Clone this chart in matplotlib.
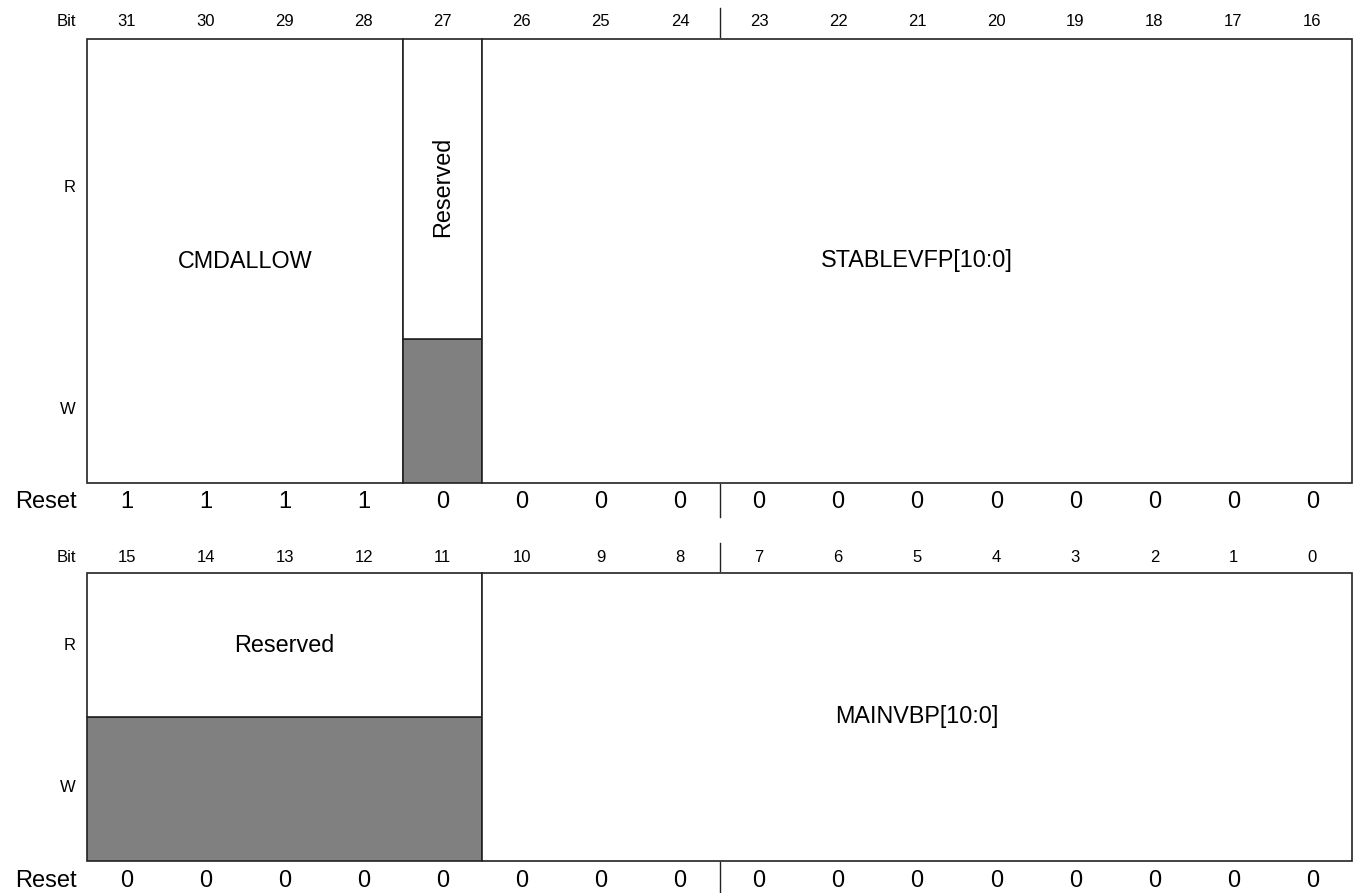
import matplotlib
matplotlib.use('Agg')
import matplotlib.pyplot as plt
from matplotlib.patches import Rectangle

plt.rcParams['font.family'] = ['Liberation Sans', 'DejaVu Sans']

# register data
top_bits = list(range(31, 15, -1))
top_reset = [1, 1, 1, 1, 0, 0, 0, 0, 0, 0, 0, 0, 0, 0, 0, 0]
top_fields = [
    ("CMDALLOW", 31, 28, "rw"),
    ("Reserved", 27, 27, "r"),
    ("STABLEVFP[10:0]", 26, 16, "rw"),
]

bottom_bits = list(range(15, -1, -1))
bottom_reset = [0] * 16
bottom_fields = [
    ("Reserved", 15, 11, "r"),
    ("MAINVBP[10:0]", 10, 0, "rw"),
]

GREY = "#808080"
LINE = "#222222"
X0, X1 = 87, 1352
CELL = (X1 - X0) / 16


def draw_register(ax, bits, reset, fields, y_top, y_bot, y_split, y_bit, y_reset, y_r, y_w):
    msb = bits[0]
    ax.text(76, y_bit, "Bit", ha="right", va="center", fontsize=12)
    ax.text(77, y_reset, "Reset", ha="right", va="center", fontsize=17)
    ax.text(76, y_r, "R", ha="right", va="center", fontsize=12)
    ax.text(76, y_w, "W", ha="right", va="center", fontsize=12)
    for i, (b, r) in enumerate(zip(bits, reset)):
        xc = X0 + (i + 0.5) * CELL
        ax.text(xc, y_bit, str(b), ha="center", va="center", fontsize=12)
        ax.text(xc, y_reset, str(r), ha="center", va="center", fontsize=17)
    for name, hi, lo, acc in fields:
        xa = X0 + (msb - hi) * CELL
        xb = X0 + (msb - lo + 1) * CELL
        w = xb - xa
        if acc == "r":
            ax.add_patch(Rectangle((xa, y_split), w, y_bot - y_split,
                                   facecolor=GREY, edgecolor=LINE, lw=1.2))
            ax.add_patch(Rectangle((xa, y_top), w, y_split - y_top,
                                   facecolor="white", edgecolor=LINE, lw=1.2))
            yc = y_r
        else:
            ax.add_patch(Rectangle((xa, y_top), w, y_bot - y_top,
                                   facecolor="white", edgecolor=LINE, lw=1.2))
            yc = (y_top + y_bot) / 2
        rot = 90 if (hi - lo) == 0 else 0
        ax.text((xa + xb) / 2, yc, name, ha="center", va="center",
                fontsize=16.8, rotation=rot)
    # byte separator
    xs = X0 + 8 * CELL
    ax.plot([xs, xs], [y_bit - 14, y_top - 2], color=LINE, lw=1.0)
    ax.plot([xs, xs], [y_bot + 1, y_reset + 15], color=LINE, lw=1.0)


fig = plt.figure(figsize=(13.53, 8.93), dpi=100)
ax = fig.add_axes([0, 0, 1, 1])
ax.set_xlim(0, 1353)
ax.set_ylim(893, 0)
ax.axis("off")

draw_register(ax, top_bits, top_reset, top_fields,
              y_top=39, y_bot=483, y_split=339, y_bit=22, y_reset=502, y_r=187, y_w=410)
draw_register(ax, bottom_bits, bottom_reset, bottom_fields,
              y_top=573, y_bot=861, y_split=717, y_bit=557, y_reset=881, y_r=645, y_w=788)

fig.savefig("out.png", dpi=100)
